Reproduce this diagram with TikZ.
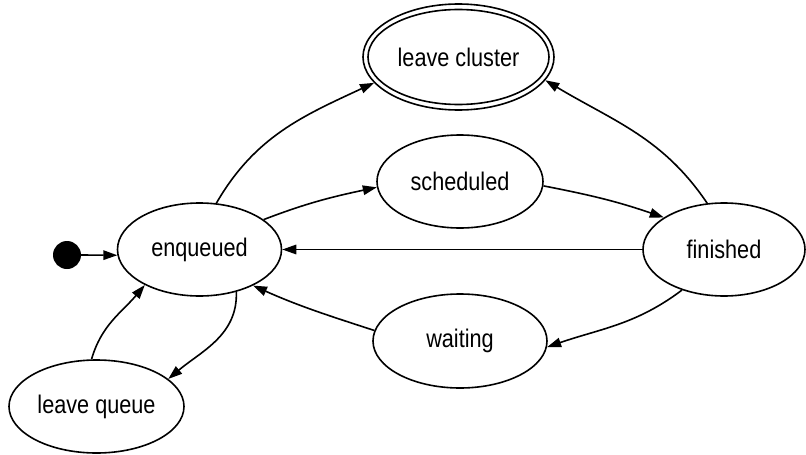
\documentclass[tikz,border=0pt]{standalone}
\usepackage{fontspec}
\setmainfont{Liberation Sans}[FakeStretch=0.85]
\usetikzlibrary{arrows.meta,shapes.geometric}
\begin{document}
\begin{tikzpicture}[x=1pt,y=1pt,
  st/.style={ellipse, draw, line width=1.6pt, inner sep=0pt, font=\fontsize{25.5}{30}\selectfont},
  arr/.style={line width=1.6pt, -{Triangle[length=14pt,width=9.5pt]}}]
\useasboundingbox (0,0) rectangle (806,-455);
\node[circle, fill, minimum size=28pt, inner sep=0pt] (start) at (67,-255) {};
\node[st, minimum width=164pt, minimum height=93pt] (enq) at (199.5,-249.5) {enqueued};
\node[st, minimum width=191pt, minimum height=106pt] (lc) at (458.5,-57) {leave cluster};
\draw[line width=1.6pt] (lc.center) ellipse [x radius=90.5, y radius=47.5];
\node[st, minimum width=166pt, minimum height=93pt] (sch) at (460,-181.5) {scheduled};
\node[st, minimum width=162pt, minimum height=93pt] (fin) at (724,-249.5) {finished};
\node[st, minimum width=174pt, minimum height=94pt] (wai) at (460,-341) {waiting};
\node[st, minimum width=175pt, minimum height=93pt] (lq) at (96.5,-406.5) {leave queue};
\draw[arr] (start.east) -- (enq.184);
\draw[arr] (enq.70) to[out=60,in=205] (lc.197);
\draw[arr] (enq.25) to[out=21,in=192] (sch.184);
\draw[arr] (sch.357) to[out=-11,in=161] (fin.152);
\draw[arr] (fin.110) to[out=124,in=329] (lc.345);
\draw[arr] (fin.west) -- (enq.east);
\draw[arr] (fin.224) to[out=217,in=19] (wai.356);
\draw[arr] (wai.173) to[out=162,in=336] (enq.326);
\draw[arr] (enq.311) to[out=272,in=40] (lq.21);
\draw[arr] (lq.96) to[out=74,in=230] (enq.213);
\end{tikzpicture}
\end{document}
